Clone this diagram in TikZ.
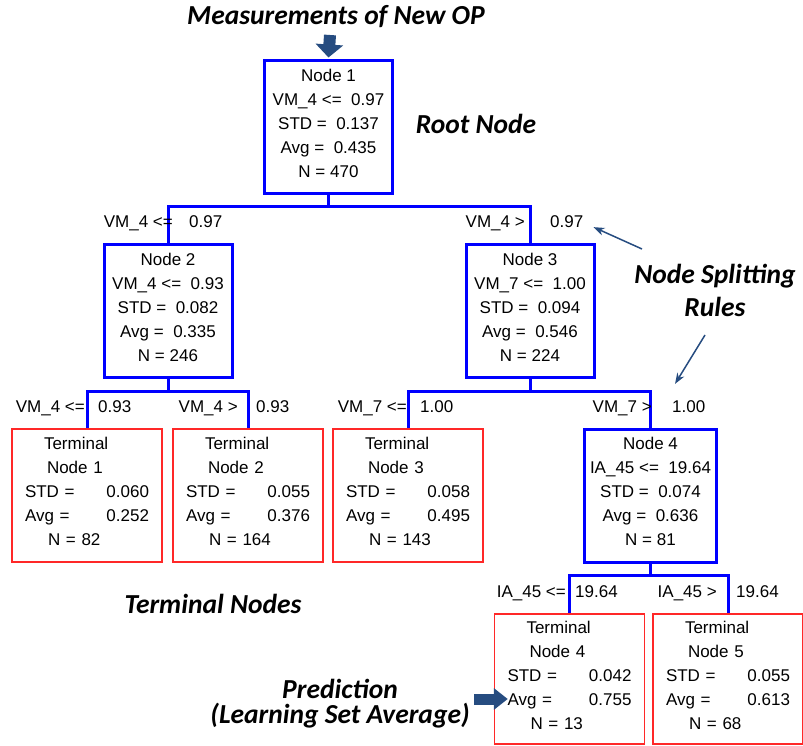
\documentclass[tikz,border=0pt]{standalone}
\usepackage{fontspec}
\setmainfont{Liberation Sans}
\newfontfamily\calloutfont{Carlito}
\usetikzlibrary{positioning,arrows.meta,calc}
\definecolor{nodeblue}{RGB}{0,0,255}
\definecolor{termred}{RGB}{255,40,40}
\definecolor{pointblue}{RGB}{38,76,128}

\begin{document}
\begin{tikzpicture}[x=1pt,y=-1pt,
  split/.style={rectangle,draw=nodeblue,line width=3pt,minimum width=128pt,minimum height=133pt,inner sep=0pt,text depth=8pt,align=center,font=\fontsize{17}{24}\selectfont},
  term/.style={rectangle,draw=termred,line width=1.5pt,minimum width=150pt,minimum height=133pt,inner sep=0pt,text width=124pt,align=left,font=\fontsize{17}{24}\selectfont},
  link/.style={nodeblue,line width=3pt},
  rule/.style={inner sep=0pt,font=\fontsize{17}{20}\selectfont},
  callout/.style={inner sep=0pt,align=center,font=\fontsize{27.5}{33}\selectfont\calloutfont\bfseries\itshape},
  bigarr/.style={-{Triangle[width=27pt,length=13pt]},line width=12pt,pointblue},
  predarr/.style={-{Triangle[width=21pt,length=14pt]},line width=11pt,pointblue},
  arr/.style={-{Stealth[length=11pt,width=8pt]},line width=1.5pt,pointblue},
]
\useasboundingbox (0,0) rectangle (803,746);

% Callout texts
\node[callout] (title) at (336,17) {Measurements of New OP};
\node[callout] (root) at (476,124) {Root Node};
\node[callout] (rules) at (715,290) {Node Splitting\\Rules};
\node[callout] (termlbl) at (213,604) {Terminal Nodes};
\node[callout,font=\fontsize{27.5}{25}\selectfont\calloutfont\bfseries\itshape] (pred) at (340,704) {Prediction\\(Learning Set Average)};

% Splitting nodes
\node[split] (N1) at (328.5,127.5) {Node 1\\VM\_4 <=\ \ 0.97\\STD =\ \ 0.137\\Avg =\ \ 0.435\\N = 470};
\node[split] (N2) at (168,311) {Node 2\\VM\_4 <=\ \ 0.93\\STD =\ \ 0.082\\Avg =\ \ 0.335\\N = 246};
\node[split] (N3) at (530,311) {Node 3\\VM\_7 <=\ \ 1.00\\STD =\ \ 0.094\\Avg =\ \ 0.546\\N = 224};
\node[split,minimum width=132pt] (N4) at (650.5,495.5) {Node 4\\IA\_45 <=\ \ 19.64\\STD =\ \ 0.074\\Avg =\ \ 0.636\\N = 81};

% Terminal nodes
\node[term] (T1) at (87,495.5) {\hspace*{19pt}Terminal\\\hspace*{22pt}Node 1\\STD =\hfill 0.060\\Avg =\hfill 0.252\\\hspace*{23pt}N = 82\rule[-8pt]{0pt}{8pt}};
\node[term] (T2) at (248,495.5) {\hspace*{19pt}Terminal\\\hspace*{22pt}Node 2\\STD =\hfill 0.055\\Avg =\hfill 0.376\\\hspace*{23pt}N = 164\rule[-8pt]{0pt}{8pt}};
\node[term] (T3) at (408,495.5) {\hspace*{19pt}Terminal\\\hspace*{22pt}Node 3\\STD =\hfill 0.058\\Avg =\hfill 0.495\\\hspace*{23pt}N = 143\rule[-8pt]{0pt}{8pt}};
\node[term,minimum height=130pt] (T4) at (569.5,679) {\hspace*{19pt}Terminal\\\hspace*{22pt}Node 4\\STD =\hfill 0.042\\Avg =\hfill 0.755\\\hspace*{23pt}N = 13\rule[-8pt]{0pt}{8pt}};
\node[term,minimum height=130pt] (T5) at (728,679) {\hspace*{19pt}Terminal\\\hspace*{22pt}Node 5\\STD =\hfill 0.055\\Avg =\hfill 0.613\\\hspace*{23pt}N = 68\rule[-8pt]{0pt}{8pt}};

% Tree links
\draw[link] (N1.south) -- ++(0,11) -| (N2.north);
\draw[link] (N1.south) -- ++(0,11) -| (N3.north);
\draw[link] (N2.south) -- ++(0,12) -| (T1.north);
\draw[link] (N2.south) -- ++(0,12) -| (T2.north);
\draw[link] (N3.south) -- ++(0,12) -| (T3.north);
\draw[link] (N3.south) -- ++(0,12) -| (N4.north);
\draw[link] (N4.south) -- ++(0,12) -| (T4.north);
\draw[link] (N4.south) -- ++(0,12) -| (T5.north);

% Split rules
\node[rule,anchor=base east] (r1a) at (173,228) {VM\_4 <=};
\node[rule,anchor=base west] (r1b) at (189,228) {0.97};
\node[rule,anchor=base east] (r1c) at (525,228) {VM\_4 >};
\node[rule,anchor=base west] (r1d) at (550,228) {0.97};
\node[rule,anchor=base east] (r2a) at (85,412) {VM\_4 <=};
\node[rule,anchor=base west] (r2b) at (98,412) {0.93};
\node[rule,anchor=base east] (r2c) at (238,412) {VM\_4 >};
\node[rule,anchor=base west] (r2d) at (256,412) {0.93};
\node[rule,anchor=base east] (r2e) at (407,412) {VM\_7 <=};
\node[rule,anchor=base west] (r2f) at (420,412) {1.00};
\node[rule,anchor=base east] (r2g) at (652,412) {VM\_7 >};
\node[rule,anchor=base west] (r2h) at (672,412) {1.00};
\node[rule,anchor=base east] (r3a) at (566,597) {IA\_45 <=};
\node[rule,anchor=base west] (r3b) at (575,597) {19.64};
\node[rule,anchor=base east] (r3c) at (717,597) {IA\_45 >};
\node[rule,anchor=base west] (r3d) at (736,597) {19.64};

% Pointer arrows
\coordinate (inp) at (330,35);
\draw[bigarr] (inp) -- ([yshift=2pt]N1.north);
\coordinate (pin) at (474,699);
\draw[predarr] (pin) -- ($(pin -| T4.west)+(14,0)$);
\coordinate (sr1) at (642,249);
\draw[arr] (sr1) -- ([xshift=10pt,yshift=-5pt]r1d.east);
\coordinate (sr2) at (705,335);
\draw[arr] (sr2) -- ([xshift=3pt,yshift=16pt]r2h.north west);

\end{tikzpicture}
\end{document}
